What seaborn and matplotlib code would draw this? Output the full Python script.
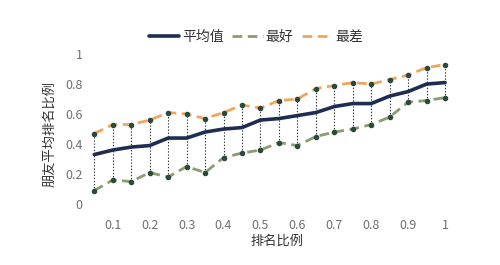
import matplotlib
matplotlib.use("Agg")
import matplotlib.pyplot as plt
import seaborn as sns
import pandas as pd
import numpy as np

rank_ratio = [0.05, 0.10, 0.15, 0.20, 0.25, 0.30, 0.35, 0.40, 0.45, 0.50,
              0.55, 0.60, 0.65, 0.70, 0.75, 0.80, 0.85, 0.90, 0.95, 1.00]
avg_vals = [0.33, 0.36, 0.38, 0.39, 0.44, 0.44, 0.48, 0.50, 0.51, 0.56,
            0.57, 0.59, 0.61, 0.65, 0.67, 0.67, 0.72, 0.75, 0.80, 0.81]
best_vals = [0.09, 0.16, 0.15, 0.21, 0.18, 0.25, 0.21, 0.31, 0.34, 0.36,
             0.41, 0.39, 0.45, 0.48, 0.50, 0.53, 0.58, 0.68, 0.69, 0.71]
worst_vals = [0.47, 0.53, 0.53, 0.56, 0.61, 0.60, 0.57, 0.61, 0.66, 0.64,
              0.69, 0.70, 0.77, 0.79, 0.81, 0.80, 0.83, 0.86, 0.91, 0.93]
x_ticks = [0.1, 0.2, 0.3, 0.4, 0.5, 0.6, 0.7, 0.8, 0.9, 1.0]
x_tick_labels = ["0.1", "0.2", "0.3", "0.4", "0.5", "0.6", "0.7", "0.8", "0.9", "1"]
y_ticks = [0, 0.2, 0.4, 0.6, 0.8, 1.0]
y_tick_labels = ["0", "0.2", "0.4", "0.6", "0.8", "1"]
series_names = ["平均值", "最好", "最差"]

sns.set_theme(style="white")
plt.rcParams['font.family'] = ['Noto Sans CJK SC', 'DejaVu Sans']

df = pd.DataFrame({"x": rank_ratio, "avg": avg_vals, "best": best_vals, "worst": worst_vals})

fig = plt.figure(figsize=(5.0, 2.65), dpi=100)
ax = fig.add_axes([0.176, 0.196, 0.754, 0.60])

navy = "#1f2d52"
green = "#8c9c72"
orange = "#f2a45c"
dot = "#2c4a3c"

ax.vlines(df["x"], df["best"], df["worst"], colors="#333333", linestyles=(0, (1.2, 1.6)),
          linewidth=0.8, zorder=1)

sns.lineplot(data=df, x="x", y="worst", ax=ax, color=orange, linewidth=2.0,
             linestyle=(0, (3.5, 2)), label=series_names[2], zorder=2)
sns.lineplot(data=df, x="x", y="best", ax=ax, color=green, linewidth=2.0,
             linestyle=(0, (3.5, 2)), label=series_names[1], zorder=2)
sns.lineplot(data=df, x="x", y="avg", ax=ax, color=navy, linewidth=2.6,
             label=series_names[0], zorder=3)
ax.scatter(df["x"], df["worst"], s=9, color=dot, zorder=4)
ax.scatter(df["x"], df["best"], s=9, color=dot, zorder=4)

ax.set_xlim(0.033, 1.054)
ax.set_ylim(-0.06, 1.0)
ax.set_xticks(x_ticks)
ax.set_xticklabels(x_tick_labels)
ax.set_yticks(y_ticks)
ax.set_yticklabels(y_tick_labels)
ax.tick_params(axis="both", length=0, labelsize=9, labelcolor="#707070", pad=4)
for s in ax.spines.values():
    s.set_visible(False)
ax.grid(False)

ax.set_xlabel("排名比例", fontsize=9.5, color="#333333", labelpad=2, fontweight="medium")
ax.set_ylabel("朋友平均排名比例", fontsize=9.5, color="#333333", labelpad=6, fontweight="medium")

handles, labels = ax.get_legend_handles_labels()
order = [labels.index(n) for n in series_names]
ax.legend([handles[i] for i in order], [labels[i] for i in order],
          loc="lower center", bbox_to_anchor=(0.445, 1.03), ncol=3, frameon=False,
          prop={"size": 10, "weight": "medium"}, labelcolor="#333333",
          handlelength=2.2, columnspacing=0.6, handletextpad=0.2,
          borderaxespad=0)

fig.savefig("out.png", dpi=100)
